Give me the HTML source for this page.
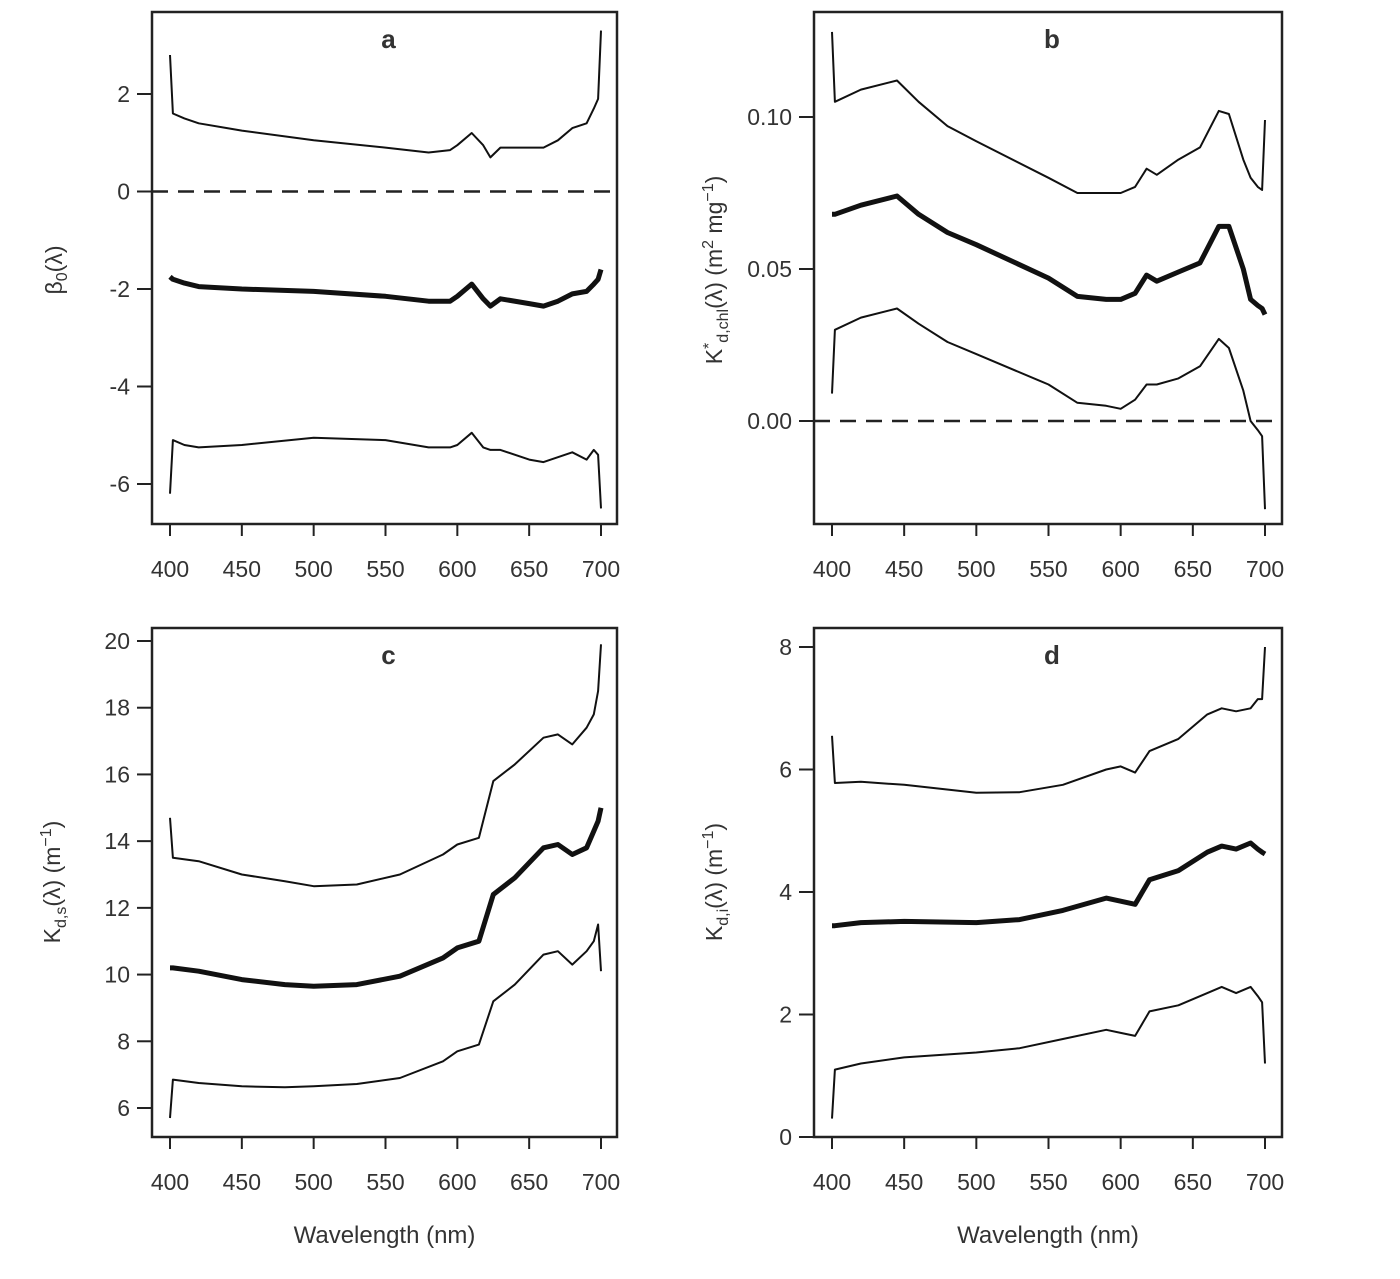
<!DOCTYPE html>
<html><head><meta charset="utf-8"><style>
body{margin:0;background:#fff;}
svg{display:block;font-family:"Liberation Sans",sans-serif;}
text{fill:#333;}
</style></head><body>
<svg id="chart" width="1400" height="1279" viewBox="0 0 1400 1279"></svg>
<script>
const wlA=[400,402,410,420,450,500,550,580,595,600,610,618,623,630,650,660,670,680,690,695,698,700];
const aUp=[2.8,1.6,1.5,1.4,1.25,1.05,0.9,0.8,0.85,0.95,1.2,0.95,0.7,0.9,0.9,0.9,1.05,1.3,1.4,1.7,1.9,3.3];
const aMid=[-1.75,-1.8,-1.88,-1.95,-2.0,-2.05,-2.15,-2.25,-2.25,-2.15,-1.9,-2.2,-2.35,-2.2,-2.3,-2.35,-2.25,-2.1,-2.05,-1.9,-1.8,-1.6];
const aLow=[-6.2,-5.1,-5.2,-5.25,-5.2,-5.05,-5.1,-5.25,-5.25,-5.2,-4.95,-5.25,-5.3,-5.3,-5.5,-5.55,-5.45,-5.35,-5.5,-5.3,-5.4,-6.5];
const wlB=[400,402,420,445,460,480,500,550,570,590,600,610,618,625,640,655,668,675,685,690,695,698,700];
const bUp=[0.128,0.105,0.109,0.112,0.105,0.097,0.092,0.08,0.075,0.075,0.075,0.077,0.083,0.081,0.086,0.09,0.102,0.101,0.086,0.08,0.077,0.076,0.099];
const bMid=[0.068,0.068,0.071,0.074,0.068,0.062,0.058,0.047,0.041,0.04,0.04,0.042,0.048,0.046,0.049,0.052,0.064,0.064,0.05,0.04,0.038,0.037,0.035];
const bLow=[0.009,0.03,0.034,0.037,0.032,0.026,0.022,0.012,0.006,0.005,0.004,0.007,0.012,0.012,0.014,0.018,0.027,0.024,0.01,0.0,-0.003,-0.005,-0.029];
const wlC=[400,402,420,450,480,500,530,560,590,600,615,625,640,660,670,680,690,695,698,700];
const cUp=[14.7,13.5,13.4,13.0,12.8,12.65,12.7,13.0,13.6,13.9,14.1,15.8,16.3,17.1,17.2,16.9,17.4,17.8,18.5,19.9];
const cMid=[10.2,10.2,10.1,9.85,9.7,9.65,9.7,9.95,10.5,10.8,11.0,12.4,12.9,13.8,13.9,13.6,13.8,14.3,14.6,15.0];
const cLow=[5.7,6.85,6.75,6.65,6.62,6.65,6.72,6.9,7.4,7.7,7.9,9.2,9.7,10.6,10.7,10.3,10.7,11.0,11.5,10.1];
const wlD=[400,402,420,450,500,530,560,590,600,610,620,640,660,670,680,690,695,698,700];
const dUp=[6.55,5.78,5.8,5.75,5.62,5.63,5.75,6.0,6.05,5.95,6.3,6.5,6.9,7.0,6.95,7.0,7.15,7.15,8.0];
const dMid=[3.45,3.45,3.5,3.52,3.5,3.55,3.7,3.9,3.85,3.8,4.2,4.35,4.65,4.75,4.7,4.8,4.7,4.65,4.62];
const dLow=[0.3,1.1,1.2,1.3,1.38,1.45,1.6,1.75,1.7,1.65,2.05,2.15,2.35,2.45,2.35,2.45,2.3,2.2,1.2];
const xTicks=[400,450,500,550,600,650,700];
const aTicks=[2,0,-2,-4,-6], aTickLabels=["2","0","-2","-4","-6"];
const bTicks=[0.10,0.05,0.00], bTickLabels=["0.10","0.05","0.00"];
const cTicks=[20,18,16,14,12,10,8,6], cTickLabels=["20","18","16","14","12","10","8","6"];
const dTicks=[8,6,4,2,0], dTickLabels=["8","6","4","2","0"];

const NS="http://www.w3.org/2000/svg", svg=document.getElementById('chart');
function el(tag,attrs,parent){const e=document.createElementNS(NS,tag);for(const k in attrs)e.setAttribute(k,attrs[k]);(parent||svg).appendChild(e);return e;}

function panel(cfg){
  const g=el('g',{});
  
  
  const sx=v=>cfg.x400+(v-400)*(cfg.x700-cfg.x400)/300;
  const sy=v=>cfg.y0px+(v-cfg.y0)*(cfg.y1px-cfg.y0px)/(cfg.y1-cfg.y0);
  const box=el('rect',{x:cfg.L,y:cfg.T,width:cfg.R-cfg.L,height:cfg.B-cfg.T,fill:'none',stroke:'#222','stroke-width':2.5},g);
  
  
  const t=el('text',{x:(cfg.L+cfg.R)/2+4,y:cfg.T+36,'text-anchor':'middle','font-size':26,'font-weight':'bold'},g);
  t.textContent=cfg.id;
  
  
  xTicks.forEach(v=>{
    const x=sx(v);
    el('line',{x1:x,x2:x,y1:cfg.B,y2:cfg.B+12,stroke:'#222','stroke-width':2},g);
    const tx=el('text',{x:x,y:cfg.B+53,'text-anchor':'middle','font-size':23},g);
    tx.textContent=v;
    
    
  });
  cfg.ticks.forEach((v,i)=>{
    const y=sy(v);
    el('line',{x1:cfg.L-15,x2:cfg.L,y1:y,y2:y,stroke:'#222','stroke-width':2},g);
    const ty=el('text',{x:cfg.L-22,y:y+8,'text-anchor':'end','font-size':23},g);
    ty.textContent=cfg.labels[i];
    
    
  });
  if(cfg.zero){
    const z=el('line',{x1:cfg.L,x2:cfg.R,y1:sy(0),y2:sy(0),stroke:'#222','stroke-width':2.5,'stroke-dasharray':'16,10'},g);
    
    
  }
  const names=['upper-bound-line','estimate-line','lower-bound-line'];
  cfg.series.forEach((s,i)=>{
    const d=cfg.wl.map((w,j)=>(j?'L':'M')+sx(w).toFixed(1)+','+sy(s[j]).toFixed(1)).join(' ');
    const p=el('path',{d:d,fill:'none',stroke:'#111','stroke-width':i==1?5:2,'stroke-linejoin':'round'},g);
    
    
  });
  const yl=el('text',{transform:`translate(${cfg.ylx},${cfg.yly}) rotate(-90)`,'text-anchor':'middle','font-size':23},g);
  yl.innerHTML=cfg.ylabel;
  
  
  if(cfg.xtitle){
    const xt=el('text',{x:(cfg.L+cfg.R)/2,y:1243,'text-anchor':'middle','font-size':24},g);
    xt.textContent='Wavelength (nm)';
    
    
  }
}
panel({id:'a',L:152,R:617,T:12,B:524,x400:170,x700:601,y0:2,y0px:94,y1:-6,y1px:484,ticks:aTicks,labels:aTickLabels,zero:true,wl:wlA,series:[aUp,aMid,aLow],ylx:62,yly:270,ylabel:'β<tspan font-size="16" dy="5">0</tspan><tspan dy="-5">(λ)</tspan>'});
panel({id:'b',L:814,R:1282,T:12,B:524,x400:832,x700:1265,y0:0.10,y0px:117,y1:0,y1px:421,ticks:bTicks,labels:bTickLabels,zero:true,wl:wlB,series:[bUp,bMid,bLow],ylx:722,yly:270,ylabel:'K<tspan font-size="16" dy="-8">*</tspan><tspan font-size="16" dy="14">d,chl</tspan><tspan dy="-6">(λ)  (m</tspan><tspan font-size="16" dy="-9">2</tspan><tspan dy="9"> mg</tspan><tspan font-size="16" dy="-9">−1</tspan><tspan dy="9">)</tspan>'});
panel({id:'c',L:152,R:617,T:628,B:1137,x400:170,x700:601,y0:20,y0px:641,y1:6,y1px:1108,ticks:cTicks,labels:cTickLabels,zero:false,wl:wlC,series:[cUp,cMid,cLow],ylx:60,yly:882,xtitle:true,ylabel:'K<tspan font-size="16" dy="6">d,s</tspan><tspan dy="-6">(λ)  (m</tspan><tspan font-size="16" dy="-9">−1</tspan><tspan dy="9">)</tspan>'});
panel({id:'d',L:814,R:1282,T:628,B:1137,x400:832,x700:1265,y0:8,y0px:647,y1:0,y1px:1137,ticks:dTicks,labels:dTickLabels,zero:false,wl:wlD,series:[dUp,dMid,dLow],ylx:722,yly:882,xtitle:true,ylabel:'K<tspan font-size="16" dy="6">d,i</tspan><tspan dy="-6">(λ)  (m</tspan><tspan font-size="16" dy="-9">−1</tspan><tspan dy="9">)</tspan>'});
</script>
</body></html>
